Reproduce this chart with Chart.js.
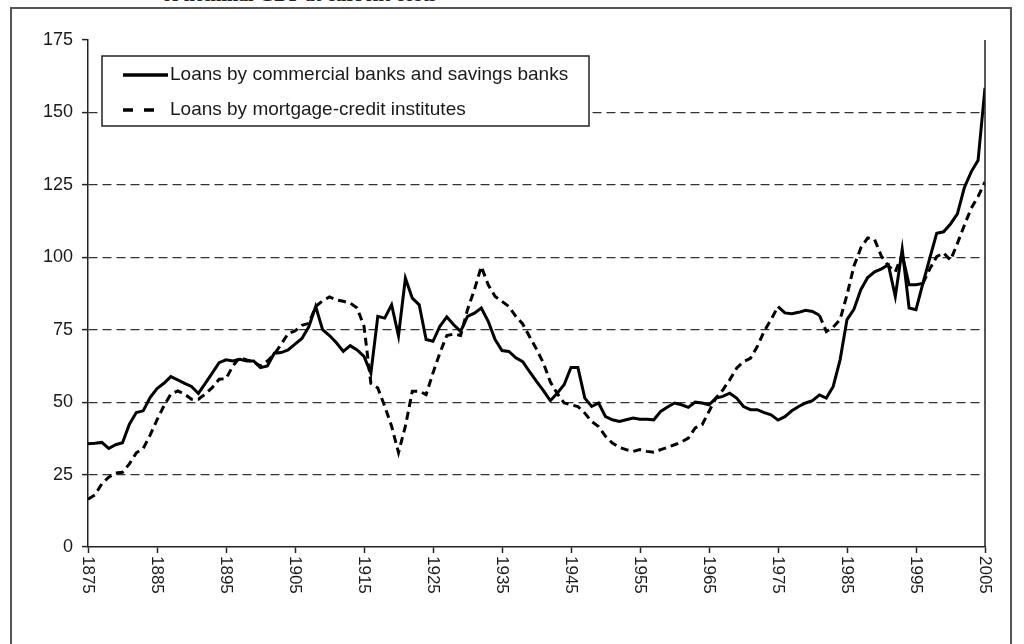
<!DOCTYPE html>
<html>
<head>
<meta charset="utf-8">
<script src="https://cdn.jsdelivr.net/npm/chart.js@4.4.1/dist/chart.umd.min.js"></script>
<style>
  html, body { margin: 0; padding: 0; background: #fff; overflow: hidden; }
  #wrap { position: relative; width: 1024px; height: 644px; overflow: hidden; }
  #frame { position: absolute; left: 10px; top: 7px; width: 998px; height: 700px; border: 2px solid #555; }
  #cap { position: absolute; left: 162px; top: -17px; font: bold 20px "Liberation Serif", serif; color: #222; white-space: nowrap; }
  canvas { position: absolute; left: 0; top: 0; }
</style>
</head>
<body>
<div id="wrap">
  <div id="cap">of nominal GDP at current costs</div>
  <div id="frame"></div>
  <canvas id="chart" width="1024" height="644"></canvas>
</div>
<script>
// Lån i pct. af BNP, 1875-2005
const years = Array.from({ length: 131 }, (_, i) => 1875 + i);
const xTickYears = [1875, 1885, 1895, 1905, 1915, 1925, 1935, 1945, 1955, 1965, 1975, 1985, 1995, 2005];

const banks = [
  35.6, 35.8, 36.1, 34.0, 35.3, 36.0, 42.4, 46.4, 47.0, 51.6,   // 1875-1884
  54.7, 56.5, 58.8, 57.7, 56.5, 55.4, 53.0, 56.5, 60.0, 63.6,   // 1885-1894
  64.6, 64.2, 64.8, 64.2, 64.2, 61.9, 62.5, 66.9, 67.1, 68.0,   // 1895-1904
  70.0, 72.0, 76.0, 83.0, 75.0, 73.0, 70.5, 67.5, 69.5, 68.0,   // 1905-1914
  65.8, 60.0, 79.6, 79.0, 83.6, 72.9, 92.8, 85.9, 83.6, 71.6,   // 1915-1924
  71.0, 76.2, 79.4, 76.7, 74.4, 79.6, 80.7, 82.5, 77.9, 71.6,   // 1925-1934
  67.8, 67.5, 65.3, 64.0, 60.5, 57.2, 54.0, 50.5, 53.1, 56.0,   // 1935-1944
  62.0, 62.0, 51.4, 48.5, 49.7, 45.0, 43.9, 43.3, 43.9, 44.5,   // 1945-1954
  44.1, 44.1, 43.9, 46.8, 48.3, 49.7, 49.1, 48.2, 50.0, 49.7,   // 1955-1964
  49.1, 51.4, 52.0, 53.1, 51.4, 48.5, 47.4, 47.4, 46.4, 45.6,   // 1965-1974
  43.8, 45.0, 47.0, 48.5, 49.7, 50.5, 52.5, 51.4, 55.4, 64.6,   // 1975-1984
  78.5, 82.0, 88.8, 93.0, 95.0, 96.0, 97.4, 86.5, 102.8, 82.5,  // 1985-1994
  81.9, 91.0, 99.7, 108.3, 108.8, 111.5, 115.0, 124.0, 129.5, 133.5, // 1995-2004
  158.5                                                          // 2005
];

const mortgage = [
  16.5, 18.0, 21.8, 24.1, 25.5, 25.8, 28.7, 32.5, 34.0, 38.6,   // 1875-1884
  43.9, 48.7, 52.8, 53.9, 52.8, 51.0, 51.0, 52.8, 55.0, 57.9,   // 1885-1894
  58.1, 62.5, 65.4, 64.6, 63.9, 62.5, 64.2, 66.5, 70.0, 73.7,   // 1895-1904
  74.6, 76.5, 77.2, 83.0, 85.0, 86.3, 85.3, 84.8, 84.2, 82.5,   // 1905-1914
  76.2, 56.5, 54.9, 48.6, 41.7, 32.6, 41.7, 53.8, 53.8, 52.6,   // 1915-1924
  60.1, 67.0, 73.0, 73.5, 73.0, 81.9, 88.8, 96.8, 90.5, 86.5,   // 1925-1934
  84.8, 83.0, 79.6, 77.0, 72.6, 68.3, 63.5, 57.0, 53.0, 49.7,   // 1935-1944
  49.1, 48.5, 46.2, 43.3, 41.6, 38.2, 35.9, 34.4, 33.6, 33.0,   // 1945-1954
  33.6, 33.0, 32.7, 33.6, 34.4, 35.3, 36.2, 37.6, 41.1, 42.2,   // 1955-1964
  46.8, 51.4, 54.2, 57.7, 61.7, 64.0, 65.1, 69.2, 74.5, 78.5,   // 1965-1974
  83.0, 80.8, 80.5, 81.0, 81.7, 81.3, 80.0, 74.4, 75.9, 78.5,   // 1975-1984
  87.0, 96.9, 103.2, 106.7, 106.1, 100.3, 97.0, 95.0, 101.0, 90.5, // 1985-1994
  90.5, 91.0, 96.0, 100.2, 101.5, 99.0, 104.8, 111.0, 116.9, 121.0, // 1995-2004
  126.0                                                          // 2005
];

// stykker af realkreditserien der er tegnet fuldt optrukket i originalen
const solidStretches = [[1975, 1981], [1993, 1996]];

const seriesLabels = [
  "Loans by commercial banks and savings banks",
  "Loans by mortgage-credit institutes",
];

const FONT = "'Liberation Sans', Arial, sans-serif";
const pts = (vals) => years.map((yr, i) => ({ x: yr, y: vals[i] }));

// ── egen tegning: højre kant, lodrette årstal, legend ──────────────
const extras = {
  id: "extras",
  afterDraw(chart) {
    const { ctx, chartArea: a, scales: { x } } = chart;
    ctx.save();
    ctx.strokeStyle = "#222";
    ctx.lineWidth = 1.5;
    ctx.beginPath(); ctx.moveTo(a.right, a.top); ctx.lineTo(a.right, a.bottom); ctx.stroke();

    ctx.fillStyle = "#1a1a1a";
    ctx.font = "17px " + FONT;
    ctx.textAlign = "left";
    ctx.textBaseline = "middle";
    x.ticks.forEach((t) => {
      ctx.save();
      ctx.translate(x.getPixelForValue(t.value), a.bottom + 9);
      ctx.rotate(Math.PI / 2);
      ctx.fillText(String(t.value), 0, 0);
      ctx.restore();
    });

    const L = a.left + 14, T = a.top + 16, W = 487, H = 70;
    ctx.fillStyle = "#fff";
    ctx.fillRect(L, T, W, H);
    ctx.strokeStyle = "#222";
    ctx.lineWidth = 1.5;
    ctx.strokeRect(L, T, W, H);
    const rows = [T + 19, T + 54];
    chart.data.datasets.forEach((ds, i) => {
      const y = rows[i];
      ctx.strokeStyle = "#000";
      ctx.lineWidth = 3.5;
      ctx.setLineDash(i === 0 ? [] : [10, 11]);
      ctx.beginPath();
      ctx.moveTo(L + 21, y);
      ctx.lineTo(L + (i === 0 ? 66 : 52), y);
      ctx.stroke();
      ctx.setLineDash([]);
      ctx.fillStyle = "#1a1a1a";
      ctx.font = "19px " + FONT;
      ctx.fillText(ds.label, L + 68, y);
    });
    ctx.restore();
  },
};

new Chart(document.getElementById("chart"), {
  type: "line",
  data: {
    datasets: [
      { label: seriesLabels[0], data: pts(banks), borderColor: "#000", borderWidth: 3, pointRadius: 0, tension: 0 },
      {
        label: seriesLabels[1], data: pts(mortgage), borderColor: "#000", borderWidth: 3, pointRadius: 0, tension: 0,
        borderDash: [8, 5],
        segment: {
          borderDash: (s) => solidStretches.some(([a, b]) => s.p0.parsed.x >= a && s.p1.parsed.x <= b) ? [] : [8, 5],
        },
      },
    ],
  },
  options: {
    responsive: false,
    animation: false,
    layout: { padding: { top: 40, right: 39, bottom: 91, left: 0 } },
    plugins: { legend: { display: false }, tooltip: { enabled: false } },
    scales: {
      x: {
        type: "linear", min: 1875, max: 2005,
        afterBuildTicks: (s) => { s.ticks = xTickYears.map((v) => ({ value: v })); },
        afterFit: (s) => { s.height = 6; },
        ticks: { display: false },
        grid: { drawOnChartArea: false, drawTicks: true, tickLength: 6, tickColor: "#222", tickWidth: 1.5 },
        border: { color: "#222", width: 1.5 },
      },
      y: {
        min: 0, max: 175,
        afterFit: (s) => { s.width = 88; },
        ticks: { stepSize: 25, padding: 9, color: "#1a1a1a", font: { family: FONT, size: 18 } },
        grid: {
          color: (c) => (c.tick && (c.tick.value === 0 || c.tick.value === 175) ? "rgba(0,0,0,0)" : "#333"),
          lineWidth: 1.2,
          tickLength: 6, tickColor: "#222", tickWidth: 1.5, tickBorderDash: [],
        },
        border: { color: "#222", width: 1.5, dash: [9, 5] },
      },
    },
  },
  plugins: [extras],
});
</script>
</body>
</html>
